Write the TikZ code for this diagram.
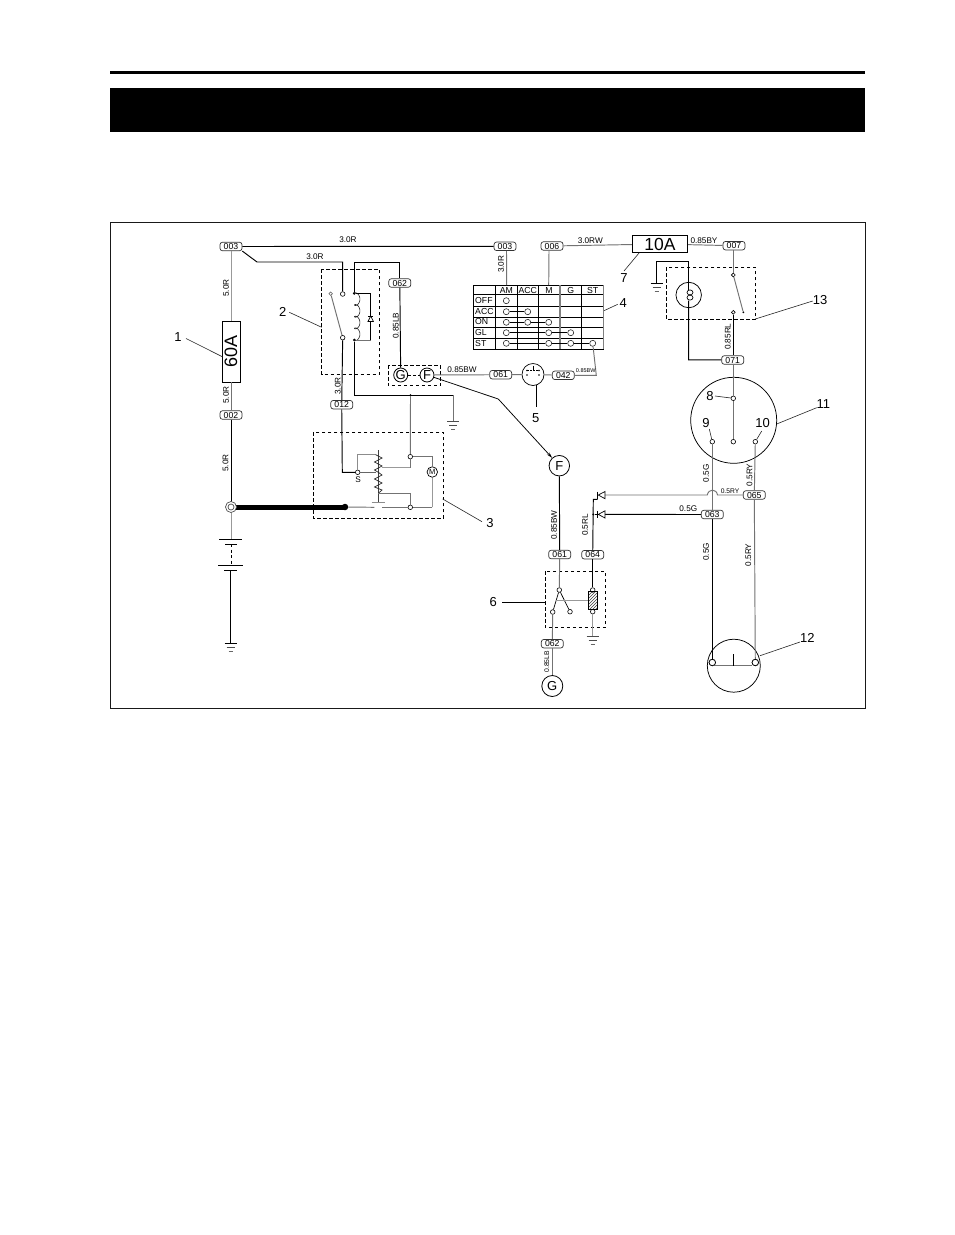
\documentclass[tikz,border=0pt]{standalone}
\usepackage{fontspec}
\setmainfont{Liberation Sans}
\usetikzlibrary{patterns,arrows.meta}
\newcommand{\fs}[1]{\fontsize{#1}{#1}\selectfont}
\newcommand{\gndsym}[3][black]{%
  \draw[#1,line width=0.8pt] (#2-6,#3) -- (#2+6,#3);
  \draw[black!70,line width=0.7pt] (#2-4,#3+4) -- (#2+4,#3+4);
  \draw[black!60,line width=0.7pt] (#2-2,#3+8) -- (#2+2,#3+8);}
\tikzset{
  wire/.style={black,line width=0.95pt},
  gwire/.style={black!55,line width=0.95pt},
  lwire/.style={black!40,line width=1pt},
  thin wire/.style={black,line width=0.7pt},
  lead/.style={black!85,line width=0.6pt},
  dbox/.style={black,line width=0.8pt,dash pattern=on 3.5pt off 2.5pt},
  pill/.style={draw=black!80,line width=0.7pt,rounded corners=2.5pt,fill=white,inner sep=0pt,minimum width=22pt,minimum height=8.5pt,text=black,font=\fs{8.7}},
  wlabel/.style={inner sep=0pt,text=black,font=\fs{8.2}},
  vlabel/.style={wlabel,rotate=90},
  smalllabel/.style={inner sep=0pt,text=black,font=\fs{6.7}},
  num/.style={inner sep=0pt,font=\fs{13},text=black},
  term/.style={circle,draw=black,line width=0.6pt,fill=white,inner sep=0pt,minimum size=4.6pt},
  bigterm/.style={circle,draw=black,line width=0.7pt,fill=white,inner sep=0pt,minimum size=6.4pt},
  dotj/.style={circle,fill=black,inner sep=0pt,minimum size=3pt},
  letter/.style={circle,draw=black,line width=0.8pt,fill=white,inner sep=0pt,minimum size=#1,font=\fs{13}},
  thead/.style={inner sep=0pt,font=\fs{8.7},text=black},
  trow/.style={inner sep=0pt,font=\fs{8.7},text=black,anchor=west},
  tc/.style={circle,draw=black!90,line width=0.55pt,fill=white,inner sep=0pt,minimum size=6pt},
  fuse/.style={draw=black,line width=0.9pt,fill=white,inner sep=0pt}
}
\begin{document}
\begin{tikzpicture}[x=1pt,y=-1pt]
\useasboundingbox[fill=white] (0,0) rectangle (954,1235);
% header
\draw[black,line width=3pt] (110,72) -- (865,72);
\fill[black] (110,88) rectangle (865,132);
\draw[black!90,line width=0.9pt] (110.5,222.5) rectangle (865,708.5);
% ---------- dashed boxes
\draw[dbox] (321.7,269.3) rectangle (379.7,374.3);
\draw[dbox] (388.3,365.3) rectangle (440.7,385.7);
\draw[dbox] (313.3,432.3) rectangle (443.3,518.3);
\draw[dbox] (666.3,267.3) rectangle (755.3,319.3);
\draw[dbox] (545.3,571.3) rectangle (605.3,627.7);
% ---------- pills
\node[pill] (pA) at (231,246.5) {003};
\node[pill] (pB) at (505,246.3) {003};
\node[pill] (pC) at (552,246) {006};
\node[pill] (pD) at (734,245.7) {007};
\node[pill] (pE) at (399.8,283) {062};
\node[pill] (pF) at (341.7,404.7) {012};
\node[pill] (pG) at (231,415) {002};
\node[pill] (pH) at (500.7,374.7) {061};
\node[pill] (pI) at (563.3,375.3) {042};
\node[pill] (pJ) at (732.7,360) {071};
\node[pill] (pK) at (754.3,495) {065};
\node[pill] (pL) at (712.3,514.5) {063};
\node[pill] (pM) at (559.7,554.5) {061};
\node[pill] (pN) at (592.7,554.7) {064};
\node[pill] (pO) at (552.3,643.7) {062};
% ---------- fuses
\node[fuse,minimum width=18pt,minimum height=61pt] (f60) at (231,351.5) {};
\node[inner sep=0pt,rotate=90,font=\fs{18}] at (f60) {60A};
\node[fuse,minimum width=55.5pt,minimum height=17.5pt,font=\fs{17.5}] (f10) at (660,244) {10A};
% ---------- left feed
\coordinate (j1) at (231,507);
\draw[lwire] (pA) -- (f60);
\draw[gwire] (f60) -- (pG);
\draw[wire] (pG) -- (j1);
\draw[black,line width=5pt] (j1) -- (345,507);
\node[circle,fill=black,inner sep=0pt,minimum size=6.5pt] (stud) at (345,507) {};
\node[circle,draw=black!70,line width=0.7pt,fill=white,inner sep=0pt,minimum size=11pt] (ring) at (j1) {};
\node[circle,draw=black!70,line width=0.7pt,fill=white,inner sep=0pt,minimum size=6pt] at (j1) {};
% battery
\coordinate (b1) at (231,539);
\coordinate (b2) at (231,544);
\coordinate (b3) at (231,565);
\coordinate (b4) at (230.5,570);
\coordinate (b5) at (230.5,643.5);
\draw[lwire] (ring) -- (b1);
\draw[wire] (219,539) -- (242,539);
\draw[wire] (225,544) -- (237,544);
\draw[wire,dash pattern=on 3pt off 2.5pt] (b2) -- (b3);
\draw[wire] (218,565) -- (243,565);
\draw[wire] (224,570) -- (237,570);
\draw[wire] (b4) -- (b5);
\gndsym{230.5}{643.5}
% top wires
\draw[wire] (pA) -- (pB);
\coordinate (k1) at (257,262);
\coordinate (k2) at (342.7,262);
\coordinate (k3) at (354.3,262);
\coordinate (k4) at (399.8,262);
% relay 2
\node[term] (r1) at (342.7,294) {};
\node[term] (r2) at (342.7,337.7) {};
\node[term,minimum size=3.5pt,draw=black!60] (r3) at (330.7,293.7) {};
\node[dotj] (c1) at (354.3,293.3) {};
\node[dotj] (c2) at (354.3,340) {};
\draw[wire] (pA.south east) -- (k1) -- (k2) -- (r1);
\draw[wire] (r2) -- (pF);
\draw[gwire] (r3) -- (r2);
\draw[wire] (c1) |- (k3) -| (pE);
\draw[line width=0.6pt,black!85] plot[domain=0:1440,samples=160,smooth] ({354.5+2.7*(1-cos(\x))},{293.3+\x/360*11.7-2.8*sin(\x)});
\coordinate (c3) at (370.7,293.3);
\coordinate (c4) at (370.7,340);
\draw[thin wire] (c1) -- (c3) -- (c4);
\draw[gwire] (c4) -- (c2);
\draw[thin wire,fill=white] (368,321.5) -- (373.4,321.5) -- (370.7,316) -- cycle;
\draw[thin wire] (368,316) -- (373.4,316);
\coordinate (c5) at (354.3,395.3);
\coordinate (c6) at (453.3,395.3);
\coordinate (g1) at (453.3,421.7);
\draw[wire] (c2) -- (c5) -- (c6);
\draw[gwire] (c6) -- (g1);
\gndsym[black!70]{453.3}{421.7}
\node[dotj,minimum size=2.5pt] (c7) at (410.5,395.3) {};
% G F
\node[letter=14pt] (G1) at (400.7,375) {G};
\node[letter=14pt] (F1) at (427,375) {F};
\draw[wire] (pE) -- (G1);
\draw[black,line width=0.8pt,dash pattern=on 3pt off 2pt] (G1) -- (F1);
% starter 3
\node[term] (s) at (357.7,472.3) {};
\node[wlabel] (slab) at (358,479.5) {S};
\node[term] (t1) at (410.3,456.7) {};
\node[term] (t2) at (410.3,507.3) {};
\node[circle,draw=black,line width=0.7pt,fill=white,inner sep=0pt,minimum size=10.5pt,font=\fs{7.5}] (mot) at (432.3,472) {M};
\coordinate (w1) at (342.3,472.3);
\draw[wire] (pF) -- (w1) -- (s);
\draw[gwire] (c7) -- (t1);
\coordinate (z0) at (375.7,454.7);
\coordinate (z1) at (375.7,472.3);
\coordinate (z2) at (357.7,454.7);
\draw[black!45,line width=1pt] (s) -- (z2) -- (z0);
\draw[black!60,line width=0.9pt] (s) -- (z1);
\draw[black!75,line width=0.8pt] (378.3,450) -- (378.3,502.7);
\draw[black!45,line width=1pt] (371.7,502.7) -- (385,502.7);
\draw[black!85,line width=0.7pt] (375.7,454.7) -- (382,458) -- (374.5,462) -- (382,466) -- (374.5,470) -- (378.3,472.3) -- (382,475) -- (374.5,479) -- (382,483) -- (374.5,487) -- (382,490) -- (378.3,493.3);
\coordinate (u1) at (381.7,467.7);
\coordinate (u2) at (410.3,467.7);
\coordinate (v1) at (378.3,493.3);
\coordinate (v2) at (410.3,493.3);
\draw[black!40,line width=1pt] (u1) -- (u2);
\draw[gwire] (u2) -- (t1);
\draw[gwire] (v1) -- (v2) -- (t2);
\coordinate (m1) at (432.3,456.7);
\coordinate (m2) at (432.3,507.3);
\draw[gwire] (t1) -- (m1) -- (mot);
\draw[lwire] (mot) -- (m2);
\draw[gwire] (m2) -- (t2);
\coordinate (x1) at (381.7,507.3);
\coordinate (x2) at (374.3,507.3);
\draw[gwire] (t2) -- (x1);
\draw[gwire] (x2) -- (stud);
% table 4
\draw[black,line width=0.8pt] (473.3,285) rectangle (603.3,349.3);
\foreach \yy in {294.7,306.3,317,327.7,338.3} \draw[black,line width=0.7pt] (473.3,\yy) -- (603.3,\yy);
\foreach \xx in {495.3,517.3,538.7,581.7} \draw[black,line width=0.7pt] (\xx,285) -- (\xx,349.3);
\draw[black!50,line width=1.2pt] (560,285) -- (560,349.3);
\draw[black!50,line width=1pt] (603.3,285) -- (603.3,349.3);
\coordinate (amtop) at (506.7,285);
\coordinate (mtop) at (548.7,285);
\draw[gwire] (pB.south) ++(1.5,0) -- (amtop);
\draw[gwire] (pC.south) ++(-3,0) -- (mtop);
\node[thead] (hAM) at (506.3,290.3) {AM};
\node[thead] (hAC) at (527.8,290.3) {ACC};
\node[thead] (hM) at (549,290.6) {M};
\node[thead] (hG) at (570.7,290.6) {G};
\node[thead] (hS) at (592.7,290.6) {ST};
\node[trow] (rOFF) at (475,300.5) {OFF};
\node[trow] (rACC) at (475,311) {ACC};
\node[trow] (rON) at (475,321.6) {ON};
\node[trow] (rGL) at (475,332) {GL};
\node[trow] (rST) at (475,343) {ST};
\node[tc] (a1) at (506.3,300.7) {};
\node[tc] (a2) at (506.3,311.7) {};
\node[tc] (b22) at (527.7,311.7) {};
\node[tc] (a3) at (506.3,322.3) {};
\node[tc] (b33) at (527.7,322.3) {};
\node[tc] (c33) at (548.7,322.3) {};
\node[tc] (a4) at (506.3,332.7) {};
\node[tc] (c44) at (548.7,332.7) {};
\node[tc] (d44) at (570.7,332.7) {};
\node[tc] (a5) at (506.3,343.3) {};
\node[tc] (c55) at (548.7,343.3) {};
\node[tc] (d55) at (570.7,343.3) {};
\node[tc] (e55) at (592.7,343.3) {};
\draw[thin wire] (a2) -- (b22);
\draw[thin wire] (a3) -- (b33) -- (c33);
\draw[thin wire] (a4) -- (c44) -- (d44);
\draw[thin wire] (a5) -- (c55) -- (d55) -- (e55);
% connector 5
\node[circle,draw=black,line width=0.7pt,fill=white,inner sep=0pt,minimum size=22pt] (conn) at (533,374.5) {};
\draw[black,line width=0.6pt] (533,365.5) -- (533,370);
\draw[black,line width=0.6pt,dash pattern=on 1.5pt off 1.5pt] (527,370.5) -- (539,370.5);
\foreach \xx/\yy in {527/370.5,539/370.5,527/375,539/375} \fill[black] (\xx,\yy) circle (0.9pt);
\coordinate (st1) at (596.3,375.3);
\draw[gwire] (F1) -- (pH);
\draw[gwire] (pH) -- (conn);
\draw[gwire] (conn) -- (pI);
\draw[gwire] (pI) -- (st1) -- (e55);
% 10A wires
\draw[gwire] (pC) -- (f10);
\draw[gwire] (f10) -- (pD);
% lamp
\node[circle,draw=black,line width=0.75pt,fill=white,inner sep=0pt,minimum size=25.5pt] (lamp) at (688.7,295) {};
\coordinate (l1) at (688.7,261);
\coordinate (l2) at (656.7,261);
\coordinate (l3) at (656.7,283.3);
\coordinate (l4) at (688.7,359.8);
\coordinate (l5) at (688.7,289.5);
\coordinate (l6) at (688.7,300.5);
\draw[wire] (l5) -- (l1) -- (l2) -- (l3);
\gndsym{656.7}{283.3}
\draw[wire] (l6) -- (l4) -- (pJ);
\draw[black,line width=0.65pt] (690,292.4) ellipse (3pt and 2.5pt);
\draw[black,line width=0.65pt] (690,297.6) ellipse (3pt and 2.5pt);
% switch 13
\node[term,minimum size=3.8pt] (q1) at (733.3,275) {};
\node[term,minimum size=3.8pt] (q2) at (733.3,312.3) {};
\node[dotj,minimum size=2pt] (q3) at (743.3,312.3) {};
\draw[gwire] (pD.south) ++(-0.7,0) -- (q1);
\draw[gwire] (q1) -- (q3);
\draw[wire] (q2) -- (pJ.north -| q2);
% meter 11
\node[circle,draw=black,line width=0.75pt,fill=white,inner sep=0pt,minimum size=86pt] (m11) at (733.7,420.3) {};
\node[term] (p8) at (733.3,398.3) {};
\node[term] (pc) at (733.3,441.7) {};
\node[term] (p9) at (712.3,441.7) {};
\node[term] (p10) at (755.3,441.7) {};
\draw[gwire] (pJ.south -| p8) -- (p8);
\draw[gwire] (p8) -- (pc);
% meter 12
\node[circle,draw=black,line width=0.75pt,fill=white,inner sep=0pt,minimum size=53pt] (m12) at (733.8,665.7) {};
\node[bigterm] (k12a) at (712.3,662.5) {};
\node[bigterm] (k12b) at (755.3,662.5) {};
\coordinate (tk1) at (733.3,654);
\coordinate (tk2) at (733.3,665.7);
\draw[gwire] (711,665.7) -- (752.3,665.7);
\draw[thin wire] (tk1) -- (tk2);
\node[bigterm] at (712.3,662.5) {};
\node[bigterm] at (755.3,662.5) {};
\draw[gwire] (p9) -- (pL);
\draw[wire] (pL) -- (k12a);
\draw[gwire] (p10) -- (pK);
\draw[gwire] (pK) -- (k12b);
% hop and diodes
\coordinate (h1) at (717.5,495);
\coordinate (h2) at (707.3,495);
\coordinate (d1) at (605,495);
\coordinate (d2) at (605,514.4);
\draw[gwire] (pK) -- (h1) .. controls (716.5,488.5) and (708.5,488.5) .. (h2) -- (d1);
\draw[wire] (pL) -- (d2);
\draw[thin wire,fill=white] (605,491.5) -- (605,498.7) -- (598.3,495) -- cycle;
\draw[thin wire,fill=white] (605,510.8) -- (605,518) -- (598.3,514.4) -- cycle;
\draw[wire,line width=0.9pt] (597.5,491.5) -- (597.5,499.3);
\draw[wire,line width=0.9pt] (597.5,510.8) -- (597.5,518);
\coordinate (d3) at (593.3,499.3);
\coordinate (d4) at (597.5,499.3);
\node[dotj,minimum size=2.2pt] (d5) at (593.3,514.4) {};
\draw[wire] (pN) -- (d3) -- (d4);
\draw[wire] (d5) -- (597.5,514.4);
% F lead
\node[letter=20.5pt] (F2) at (559.3,465.7) {F};
\coordinate (fb) at (498.3,399);
\draw[black,line width=0.75pt] (F1) -- (fb);
\draw[black,line width=0.75pt,-{Stealth[length=6pt,width=3.2pt]}] (fb) -- (F2);
\draw[wire] (F2) -- (pM);
% switch 6
\node[term] (sw) at (559.3,590) {};
\node[term] (swa) at (552.7,612) {};
\node[term] (swb) at (570,611.7) {};
\node[term] (cta) at (592.7,590) {};
\node[term] (ctb) at (592.7,611.7) {};
\draw[gwire] (pM) -- (sw);
\draw[wire] (pN) -- (cta);
\draw[thin wire] (sw) -- (swa);
\draw[thin wire] (sw) -- (swb);
\coordinate (sg) at (592.7,636.7);
\draw[lwire] (ctb) -- (sg);
\gndsym[black!70]{592.7}{636.7}
\node[draw=black,line width=1pt,pattern=north east lines,pattern color=black!75,minimum width=9pt,minimum height=17.5pt,inner sep=0pt] (coil6) at (592.7,600.7) {};
\coordinate (sm) at (556,600.7);
\draw[lwire] (sm) -- (coil6);
% G lower
\node[letter=21pt] (G2) at (552.3,686) {G};
\draw[gwire] (swa) -- (pO);
\draw[gwire] (pO) -- (G2);
% wire labels
\node[wlabel] (t01) at (348,240) {3.0R};
\node[wlabel] (t02) at (315,257) {3.0R};
\node[vlabel] (t03) at (226,288) {5.0R};
\node[vlabel] (t04) at (226,395) {5.0R};
\node[vlabel] (t05) at (225.5,463) {5.0R};
\node[vlabel] (t06) at (337.7,386) {3.0R};
\node[vlabel] (t07) at (395.7,325.7) {0.85LB};
\node[wlabel] (t08) at (462,369.8) {0.85BW};
\node[vlabel] (t09) at (501,264.3) {3.0R};
\node[wlabel] (t10) at (590.3,241) {3.0RW};
\node[wlabel] (t11) at (704,240.7) {0.85BY};
\node[inner sep=0pt,font=\fs{5.5},text=black] (t12) at (585.7,371) {0.85BW};
\node[vlabel] (t13) at (727.7,336.7) {0.85RL};
\node[vlabel] (t14) at (554,525) {0.85BW};
\node[vlabel] (t15) at (585,525) {0.5RL};
\node[vlabel] (t16) at (706,473.3) {0.5G};
\node[vlabel] (t17) at (749.5,475) {0.5RY};
\node[vlabel] (t18) at (706,551.7) {0.5G};
\node[vlabel] (t19) at (748.3,555) {0.5RY};
\node[wlabel] (t20) at (688.3,508.3) {0.5G};
\node[smalllabel] (t21) at (730,490.7) {0.5RY};
\node[inner sep=0pt,rotate=90,font=\fs{6.8},text=black] (t22) at (546.7,661.7) {0.85LB};
% numbers and leaders
\node[num] (n1) at (178,337) {1};
\node[num] (n2) at (282.7,311.5) {2};
\node[num] (n3) at (490,523) {3};
\node[num] (n4) at (623.3,303.3) {4};
\node[num] (n5) at (535.7,418) {5};
\node[num] (n6) at (493.3,602.3) {6};
\node[num] (n7) at (624,278.5) {7};
\node[num] (n8) at (710,396) {8};
\node[num] (n9) at (706,423.3) {9};
\node[num] (n10) at (762.7,423.3) {10};
\node[num] (n11) at (823.3,404.3) {11};
\node[num] (n12) at (807.3,638.3) {12};
\node[num] (n13) at (820,300) {13};
\coordinate (l5a) at (536.3,406.7);
\coordinate (l5b) at (536.3,385);
\draw[lead] (n1) ++(8,1.5) -- (222.3,356.7);
\draw[lead] (n2) ++(6.6,0.8) -- (321.7,327.3);
\draw[lead] (n3) ++(-8,-1.3) -- (442.7,499);
\draw[lead] (n4) ++(-5.6,1) -- (604,310.7);
\draw[black,line width=0.75pt] (l5a) -- (l5b);
\draw[black,line width=0.8pt] (n6) ++(8.7,0) -- (545.3,602.3);
\draw[lead] (n7) ++(0,-7.5) -- (639.3,252.7);
\draw[lead] (n8) ++(5,0) -- (p8);
\draw[lead] (n9) ++(3.3,5.7) -- (p9);
\draw[lead] (n10) ++(-1,7.7) -- (p10);
\draw[lead] (n11) ++(-6.6,3.4) -- (776.7,424);
\draw[lead] (n12) ++(-7.3,3.7) -- (760,655.7);
\draw[lead] (n13) ++(-7.3,1) -- (755.3,319);
\end{tikzpicture}
\end{document}
